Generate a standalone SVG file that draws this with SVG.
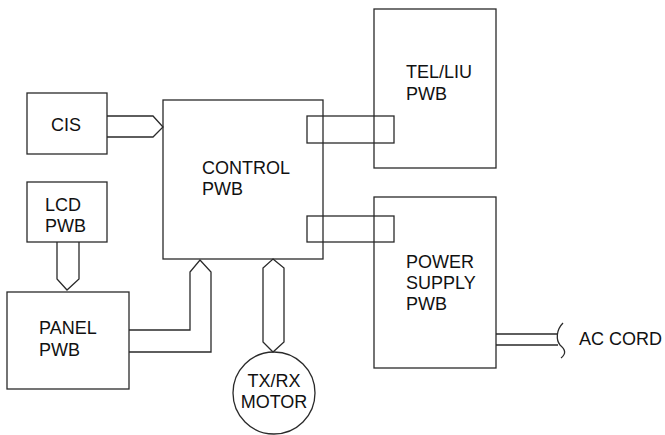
<svg xmlns="http://www.w3.org/2000/svg" width="665" height="435" viewBox="0 0 665 435">
<style>
.b{fill:none;stroke:#2a2a2a;stroke-width:1.3}
.t{font-family:"Liberation Sans",Arial,sans-serif;font-size:18px;fill:#111}
</style>
<rect width="665" height="435" fill="#fff"/>
<g id="connectors">
<path class="b" d="M107,116 H153 L163,127 L153,137 H107"/>
<path class="b" d="M57,242 V279 L67,290 L79,279 V242"/>
<path class="b" d="M129,330 H190 V272 L200,260 L211,272 V352 H129"/>
<path class="b" d="M273,259 L284,268 V342 L273,352 L263,342 V268 Z"/>
<path class="b" d="M496,334 H558 M496,345 H558"/>
<path class="b" d="M563,323 C556,330 556,340 560,345 C566,350 566,354 561,358"/>
</g>
<g id="cis"><rect class="b" x="27" y="93" width="80" height="61"/><text class="t" x="51" y="131">CIS</text></g>
<g id="control"><rect class="b" x="163" y="100" width="160" height="159"/><text class="t" x="202" y="174">CONTROL</text><text class="t" x="202" y="195">PWB</text></g>
<g id="tel"><rect class="b" x="374" y="9" width="122" height="159"/><text class="t" x="406" y="78">TEL/LIU</text><text class="t" x="406" y="100">PWB</text></g>
<g id="power"><rect class="b" x="374" y="197" width="122" height="171"/><text class="t" x="406" y="268">POWER</text><text class="t" x="406" y="289">SUPPLY</text><text class="t" x="406" y="310">PWB</text></g>
<g id="lcd"><rect class="b" x="27" y="182" width="80" height="60"/><text class="t" x="45" y="211">LCD</text><text class="t" x="45" y="232">PWB</text></g>
<g id="panel"><rect class="b" x="7" y="292" width="122" height="97"/><text class="t" x="39" y="334">PANEL</text><text class="t" x="39" y="356">PWB</text></g>
<g id="motor"><circle class="b" cx="274" cy="393" r="41"/><text class="t" x="274" y="387" text-anchor="middle">TX/RX</text><text class="t" x="274" y="408" text-anchor="middle">MOTOR</text></g>
<g id="links"><rect class="b" x="307" y="116" width="87" height="27"/><rect class="b" x="307" y="216" width="87" height="26"/></g>
<text class="t" x="579" y="345">AC CORD</text>
</svg>
